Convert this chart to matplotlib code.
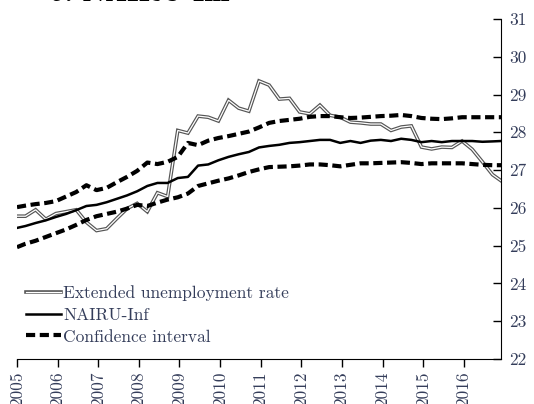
import numpy as np
import matplotlib
matplotlib.use("Agg")
import matplotlib.pyplot as plt
import matplotlib.patheffects as pe

plt.rcParams['font.family'] = ['cmr10', 'DejaVu Serif']
plt.rcParams['axes.unicode_minus'] = False

# quarterly observations (month index from Jan 2005), last one is Dec 2016
months = np.r_[0, np.arange(1, 48) * 3 - 0.5, 143]
dates = 2005 + months / 12

extended_rate = [
    25.78, 25.78, 25.95, 25.70, 25.85, 25.90, 25.95, 25.62, 25.40, 25.45,
    25.72, 25.98, 26.12, 25.90, 26.40, 26.30, 28.05, 27.98, 28.43, 28.40,
    28.30, 28.85, 28.64, 28.56, 29.36, 29.25, 28.88, 28.90, 28.54, 28.49,
    28.72, 28.45, 28.40, 28.27, 28.25, 28.22, 28.22, 28.05, 28.14, 28.17,
    27.61, 27.56, 27.61, 27.60, 27.77, 27.55, 27.22, 26.88, 26.72,
]
nairu_inf = [
    25.47, 25.52, 25.60, 25.67, 25.76, 25.84, 25.94, 26.05, 26.08, 26.15,
    26.24, 26.33, 26.44, 26.58, 26.66, 26.66, 26.79, 26.82, 27.12, 27.15,
    27.26, 27.35, 27.42, 27.48, 27.60, 27.64, 27.67, 27.72, 27.74, 27.77,
    27.80, 27.80, 27.72, 27.77, 27.72, 27.78, 27.80, 27.77, 27.83, 27.80,
    27.74, 27.77, 27.74, 27.77, 27.77, 27.77, 27.75, 27.76, 27.77,
]
ci_upper = [
    26.02, 26.06, 26.10, 26.13, 26.18, 26.30, 26.42, 26.60, 26.47, 26.53,
    26.68, 26.82, 26.98, 27.20, 27.16, 27.22, 27.35, 27.72, 27.66, 27.78,
    27.85, 27.90, 27.96, 28.02, 28.13, 28.25, 28.30, 28.33, 28.36, 28.41,
    28.43, 28.43, 28.40, 28.38, 28.39, 28.41, 28.43, 28.44, 28.46, 28.43,
    28.38, 28.36, 28.35, 28.37, 28.40, 28.40, 28.40, 28.40, 28.40,
]
ci_lower = [
    24.96, 25.05, 25.13, 25.23, 25.33, 25.43, 25.55, 25.68, 25.78, 25.84,
    25.90, 25.98, 26.08, 26.05, 26.14, 26.22, 26.28, 26.38, 26.58, 26.65,
    26.72, 26.78, 26.86, 26.95, 27.02, 27.08, 27.09, 27.10, 27.12, 27.15,
    27.15, 27.13, 27.10, 27.14, 27.18, 27.18, 27.19, 27.20, 27.21, 27.19,
    27.16, 27.18, 27.18, 27.18, 27.18, 27.16, 27.14, 27.13, 27.13,
]
years = list(range(2005, 2017))
y_ticks = list(range(22, 32))

text_color = '#343d5a'

fig = plt.figure(figsize=(5.34, 4.04), dpi=100)
ax = fig.add_axes([17 / 534, 45 / 404, 484 / 534, 340 / 404])

ax.plot(dates, extended_rate, color='white', lw=0.9, solid_joinstyle='miter',
        path_effects=[pe.Stroke(linewidth=2.6, foreground='#555555'), pe.Normal()],
        label='Extended unemployment rate')
ax.plot(dates, nairu_inf, color='black', lw=1.8, label='NAIRU-Inf')
ax.plot(dates, ci_upper, color='black', lw=3, dashes=(2.2, 1.1),
        dash_capstyle='butt', label='Confidence interval')
ax.plot(dates, ci_lower, color='black', lw=3, dashes=(2.2, 1.1),
        dash_capstyle='butt')

ax.set_xlim(2005, 2005 + 143 / 12)
ax.set_ylim(22, 31)
ax.set_xticks(years)
ax.set_xticklabels([str(y) for y in years], rotation=90, fontsize=12.5,
                   color=text_color)
ax.set_yticks(y_ticks)
ax.set_yticklabels([str(v) for v in y_ticks], fontsize=12.5, color=text_color)

ax.yaxis.tick_right()
ax.tick_params(axis='y', direction='in', length=6, width=1, pad=6)
ax.tick_params(axis='x', direction='out', length=6, width=1, pad=3)
ax.spines['left'].set_visible(False)
ax.spines['top'].set_visible(False)

leg = ax.legend(loc='lower left', frameon=False, fontsize=12.5,
                handlelength=2.0, handletextpad=0.15, labelspacing=0.38,
                borderaxespad=0.2, bbox_to_anchor=(-0.003, 0.012))
for t in leg.get_texts():
    t.set_color(text_color)

# panel title sits mostly above the top edge, as in the source image
fig.text(50 / 534, 1 - 1 / 404, '5. NAIRU-Inf', fontsize=21,
         fontweight='bold', family=['cmb10', 'DejaVu Serif'],
         color='black', va='baseline')

fig.savefig('out.png', dpi=100)
